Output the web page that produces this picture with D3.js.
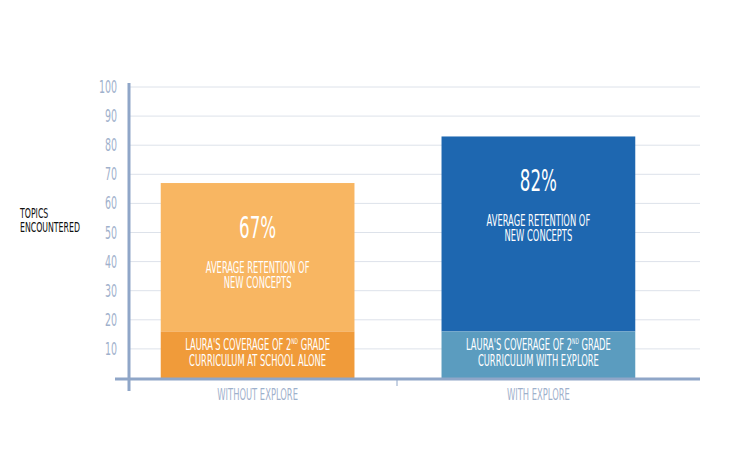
<!DOCTYPE html><html><head><meta charset="utf-8">
<script src="https://cdn.jsdelivr.net/npm/d3@7"></script>
<style>body{margin:0;background:#fff}text{font-family:"DejaVu Sans Condensed","Liberation Sans Narrow",sans-serif}</style>
</head><body><svg width="730" height="456"></svg><script>
const categories=["WITHOUT EXPLORE","WITH EXPLORE"];
const totalValues=[67,83];
const baseValues=[16,16];
const percentLabels=["67%","82%"];
const baseLabels=[["LAURA'S COVERAGE OF 2ND GRADE","CURRICULUM AT SCHOOL ALONE"],["LAURA'S COVERAGE OF 2ND GRADE","CURRICULUM WITH EXPLORE"]];
const yTicks=[10,20,30,40,50,60,70,80,90,100];
const topColors=["#f8b662","#1e67b0"],baseColors=["#f09b3a","#5b9cbf"];
const svg=d3.select("svg");
const y=d3.scaleLinear().domain([0,100]).range([378,87]);
const x=d3.scaleBand().domain(categories).range([113,683]).paddingInner(0.31).paddingOuter(0.17);
const SX=0.62;
function txt(px,py,size,fill,anchor,t){
 return svg.append("text").attr("transform",`translate(${px},${py}) scale(${SX},1)`).attr("text-anchor",anchor).attr("fill",fill).attr("font-size",size).text(t);
}
svg.append("g").selectAll("line").data(yTicks).join("line").attr("x1",130).attr("x2",700)
 .attr("y1",d=>y(d)).attr("y2",d=>y(d)).attr("stroke","#dde2ea").attr("stroke-width",1);
yTicks.forEach(d=>txt(117,y(d)+6,17,"#9fb1cc","end",d));
categories.forEach((c,i)=>{
 const bx=x(c),bw=x.bandwidth(),cx=bx+bw/2;
 svg.append("rect").attr("x",bx).attr("width",bw).attr("y",y(totalValues[i])).attr("height",y(baseValues[i])-y(totalValues[i])).attr("fill",topColors[i]);
 svg.append("rect").attr("x",bx).attr("width",bw).attr("y",y(baseValues[i])).attr("height",y(0)-y(baseValues[i])).attr("fill",baseColors[i]);
 const py=y(totalValues[i])+55;
 txt(cx,py,30,"#fff","middle",percentLabels[i]);
 ["AVERAGE RETENTION OF","NEW CONCEPTS"].forEach((t,k)=>txt(cx,py+35+k*15,15,"#fff","middle",t));
 baseLabels[i].forEach((t,k)=>{
  const tx=txt(cx,y(baseValues[i])+19+k*16,15,"#fff","middle","");
  if(t.includes("2ND")){const p=t.split("2ND");tx.append("tspan").text(p[0]+"2");tx.append("tspan").attr("font-size",8).attr("dy",-6).text("ND");tx.append("tspan").attr("dy",6).text(p[1]);}
  else tx.text(t);
 });
 txt(cx,400,15,"#9fb1cc","middle",c);
});
svg.append("line").attr("x1",115).attr("x2",700).attr("y1",379).attr("y2",379).attr("stroke","#8fa6c8").attr("stroke-width",3);
svg.append("line").attr("x1",129).attr("x2",129).attr("y1",83).attr("y2",391).attr("stroke","#8fa6c8").attr("stroke-width",3);
svg.append("line").attr("x1",397).attr("x2",397).attr("y1",379).attr("y2",386).attr("stroke","#8fa6c8").attr("stroke-width",1);
["TOPICS","ENCOUNTERED"].forEach((t,k)=>txt(20,218+k*14,14,"#111","start",t));
</script></body></html>
